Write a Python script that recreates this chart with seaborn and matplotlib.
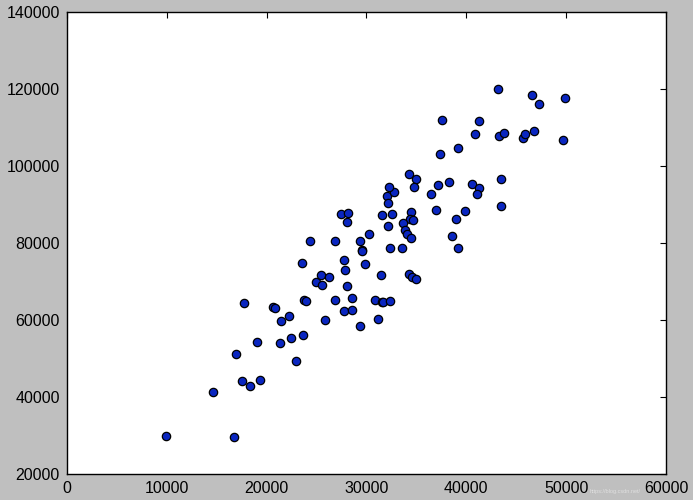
import matplotlib
matplotlib.use("Agg")
import matplotlib.pyplot as plt
import seaborn as sns
import pandas as pd

x_values = [
    9930, 16770, 14660, 17570, 18340, 19310, 16940, 22970, 19010, 21310,
    22410, 23640, 21440, 22240, 25820, 17740, 20670, 20840, 23740, 23990,
    24910, 25520, 26850, 28520, 27720, 28580, 30850, 31520, 31620, 32350,
    31180, 29380, 32020, 32800, 32130, 36510, 36930, 27450, 28200, 28080,
    31550, 32550, 34420, 34400, 34630, 32120, 33670, 33830, 34020, 34420,
    30230, 24340, 26850, 29320, 29550, 29580, 32380, 33570, 27750, 29820,
    23540, 27880, 25420, 26280, 31450, 34280, 34520, 34950, 28080, 43130,
    46540, 47270, 49900, 37560, 41290, 40860, 43230, 43760, 45660, 45900,
    46800, 49640, 37390, 39190, 34220, 34950, 32280, 34750, 37130, 38230,
    40530, 41230, 41030, 43460, 43430, 39830, 38960, 38560, 39160,
]
y_values = [
    29930, 29590, 41200, 44210, 42750, 44390, 51220, 49400, 54250, 54000,
    55220, 56000, 59630, 60930, 60040, 64460, 63420, 63000, 65290, 65030,
    69750, 69050, 65160, 65750, 62300, 62640, 65160, 64720, 64560, 64980,
    60150, 58410, 92160, 93270, 90420, 92730, 88570, 87480, 87820, 85410,
    87220, 87560, 87950, 86290, 85850, 84470, 85070, 83410, 82290, 81170,
    82340, 80400, 80400, 80470, 78140, 77880, 78580, 78790, 75460, 74580,
    74760, 72950, 71570, 71210, 71730, 71850, 71210, 70690, 68710, 119930,
    118300, 116120, 117670, 111810, 111630, 108250, 107730, 108430, 107210, 108250,
    109110, 106690, 103140, 104620, 97790, 96490, 94490, 94410, 95090, 95790,
    95350, 94150, 92670, 96490, 89560, 88340, 86260, 81770, 78660,
]
x_ticks = [0, 10000, 20000, 30000, 40000, 50000, 60000]
y_ticks = [20000, 40000, 60000, 80000, 100000, 120000, 140000]

df = pd.DataFrame({"x": x_values, "y": y_values})

sns.set_style("white")
plt.rcParams["font.family"] = ["Liberation Sans", "DejaVu Sans"]

fig = plt.figure(figsize=(6.93, 5.0), dpi=100, facecolor="#bfbfbf")
ax = fig.add_axes([0.0964, 0.052, 0.8646, 0.9246])
ax.set_facecolor("white")

sns.scatterplot(data=df, x="x", y="y", ax=ax, color="#0a26c0",
                edgecolor="black", linewidth=0.9, s=36, zorder=3)

ax.set_xlim(0, 60000)
ax.set_ylim(20000, 140000)
ax.set_xticks(x_ticks)
ax.set_yticks(y_ticks)
ax.set_xticklabels([str(t) for t in x_ticks])
ax.set_yticklabels([str(t) for t in y_ticks])
ax.set_xlabel("")
ax.set_ylabel("")
ax.grid(False)

for sp in ax.spines.values():
    sp.set_visible(True)
    sp.set_color("black")
    sp.set_linewidth(1.0)

ax.tick_params(axis="both", which="major", direction="in", length=4,
               width=0.8, color="black", labelsize=11.5, labelcolor="black",
               top=True, right=True, pad=5)

fig.text(0.888, 0.012, "https://blog.csdn.net/", ha="center", va="bottom",
         fontsize=4, color="#e8e8e8", alpha=0.8)

fig.savefig("out.png", dpi=100, facecolor=fig.get_facecolor())
